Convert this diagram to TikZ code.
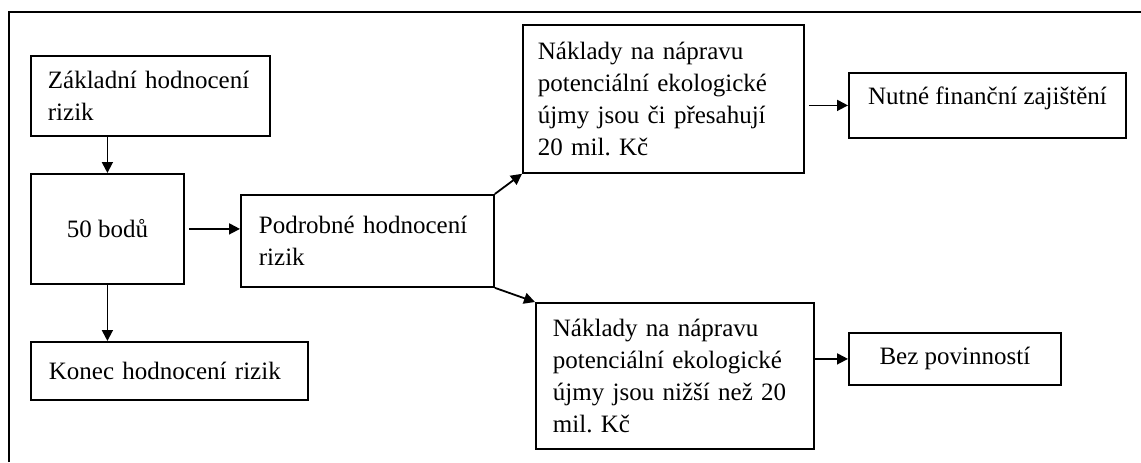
\documentclass[tikz,border=0pt]{standalone}
\usepackage{fontspec}
\setmainfont{Liberation Serif}
\usetikzlibrary{arrows.meta}
\frenchspacing

\begin{document}
\begin{tikzpicture}[x=0.5pt,y=-0.5pt]
\tikzstyle{every node}+=[font=\fontsize{12.5}{16}\selectfont]
\tikzstyle{box}=[draw=black, line width=0.9pt, anchor=north west, inner ysep=0pt]
\tikzstyle{lbox}=[box, align=left]
\tikzstyle{cbox}=[box, align=center]
\tikzstyle{arr}=[black, line width=0.9pt, -{Triangle[length=5.5pt,width=5.5pt]}]
\useasboundingbox (0,0) rectangle (1141,462);
\draw [black, line width=1.3pt] (9,462) -- (9,12) -- (1141,12);
\node [lbox, inner xsep=8.5pt, text width=102.5pt, minimum height=40pt] (zaklad) at (30,55) {Základní hodnocení\\rizik};
\node [cbox, minimum width=76.5pt, minimum height=55pt] (body) at (30,173) {50 bodů};
\node [lbox, inner xsep=9pt, text width=120.5pt, minimum height=29pt] (konec) at (30,341) {Konec hodnocení rizik};
\node [lbox, inner xsep=9pt, text width=108.5pt, minimum height=46pt] (podrobne) at (240,194) {Podrobné hodnocení\\rizik};
\node [lbox, inner xsep=7.5pt, text width=125.5pt, minimum height=74pt] (naklvys) at (522,24) {Náklady na nápravu\\potenciální ekologické\\újmy jsou či přesahují\\20 mil. Kč};
\node [lbox, inner xsep=8.5pt, text width=122pt, minimum height=73pt] (naklniz) at (535,302) {Náklady na nápravu\\potenciální ekologické\\újmy jsou nižší než 20\\mil. Kč};
\node [cbox, minimum width=138.5pt, text height=16pt, text depth=16.5pt] (financ) at (848,72) {Nutné finanční zajištění};
\node [cbox, minimum width=106pt, minimum height=26pt] (bezpov) at (848,332) {Bez povinností};
\draw [arr] (zaklad.south -| body.north) -- (body.north);
\draw [arr] (body.south) -- (body.south |- konec.north);
\draw [arr, shorten <=2pt] (body.east) -- (body.east -| podrobne.west);
\draw [arr] (podrobne.north east) -- (naklvys.south west);
\draw [arr] (podrobne.south east) -- (naklniz.north west);
\draw [arr, shorten <=2pt] (financ.west -| naklvys.east) -- (financ.west);
\draw [arr] (bezpov.west -| naklniz.east) -- (bezpov.west);
\end{tikzpicture}
\end{document}
